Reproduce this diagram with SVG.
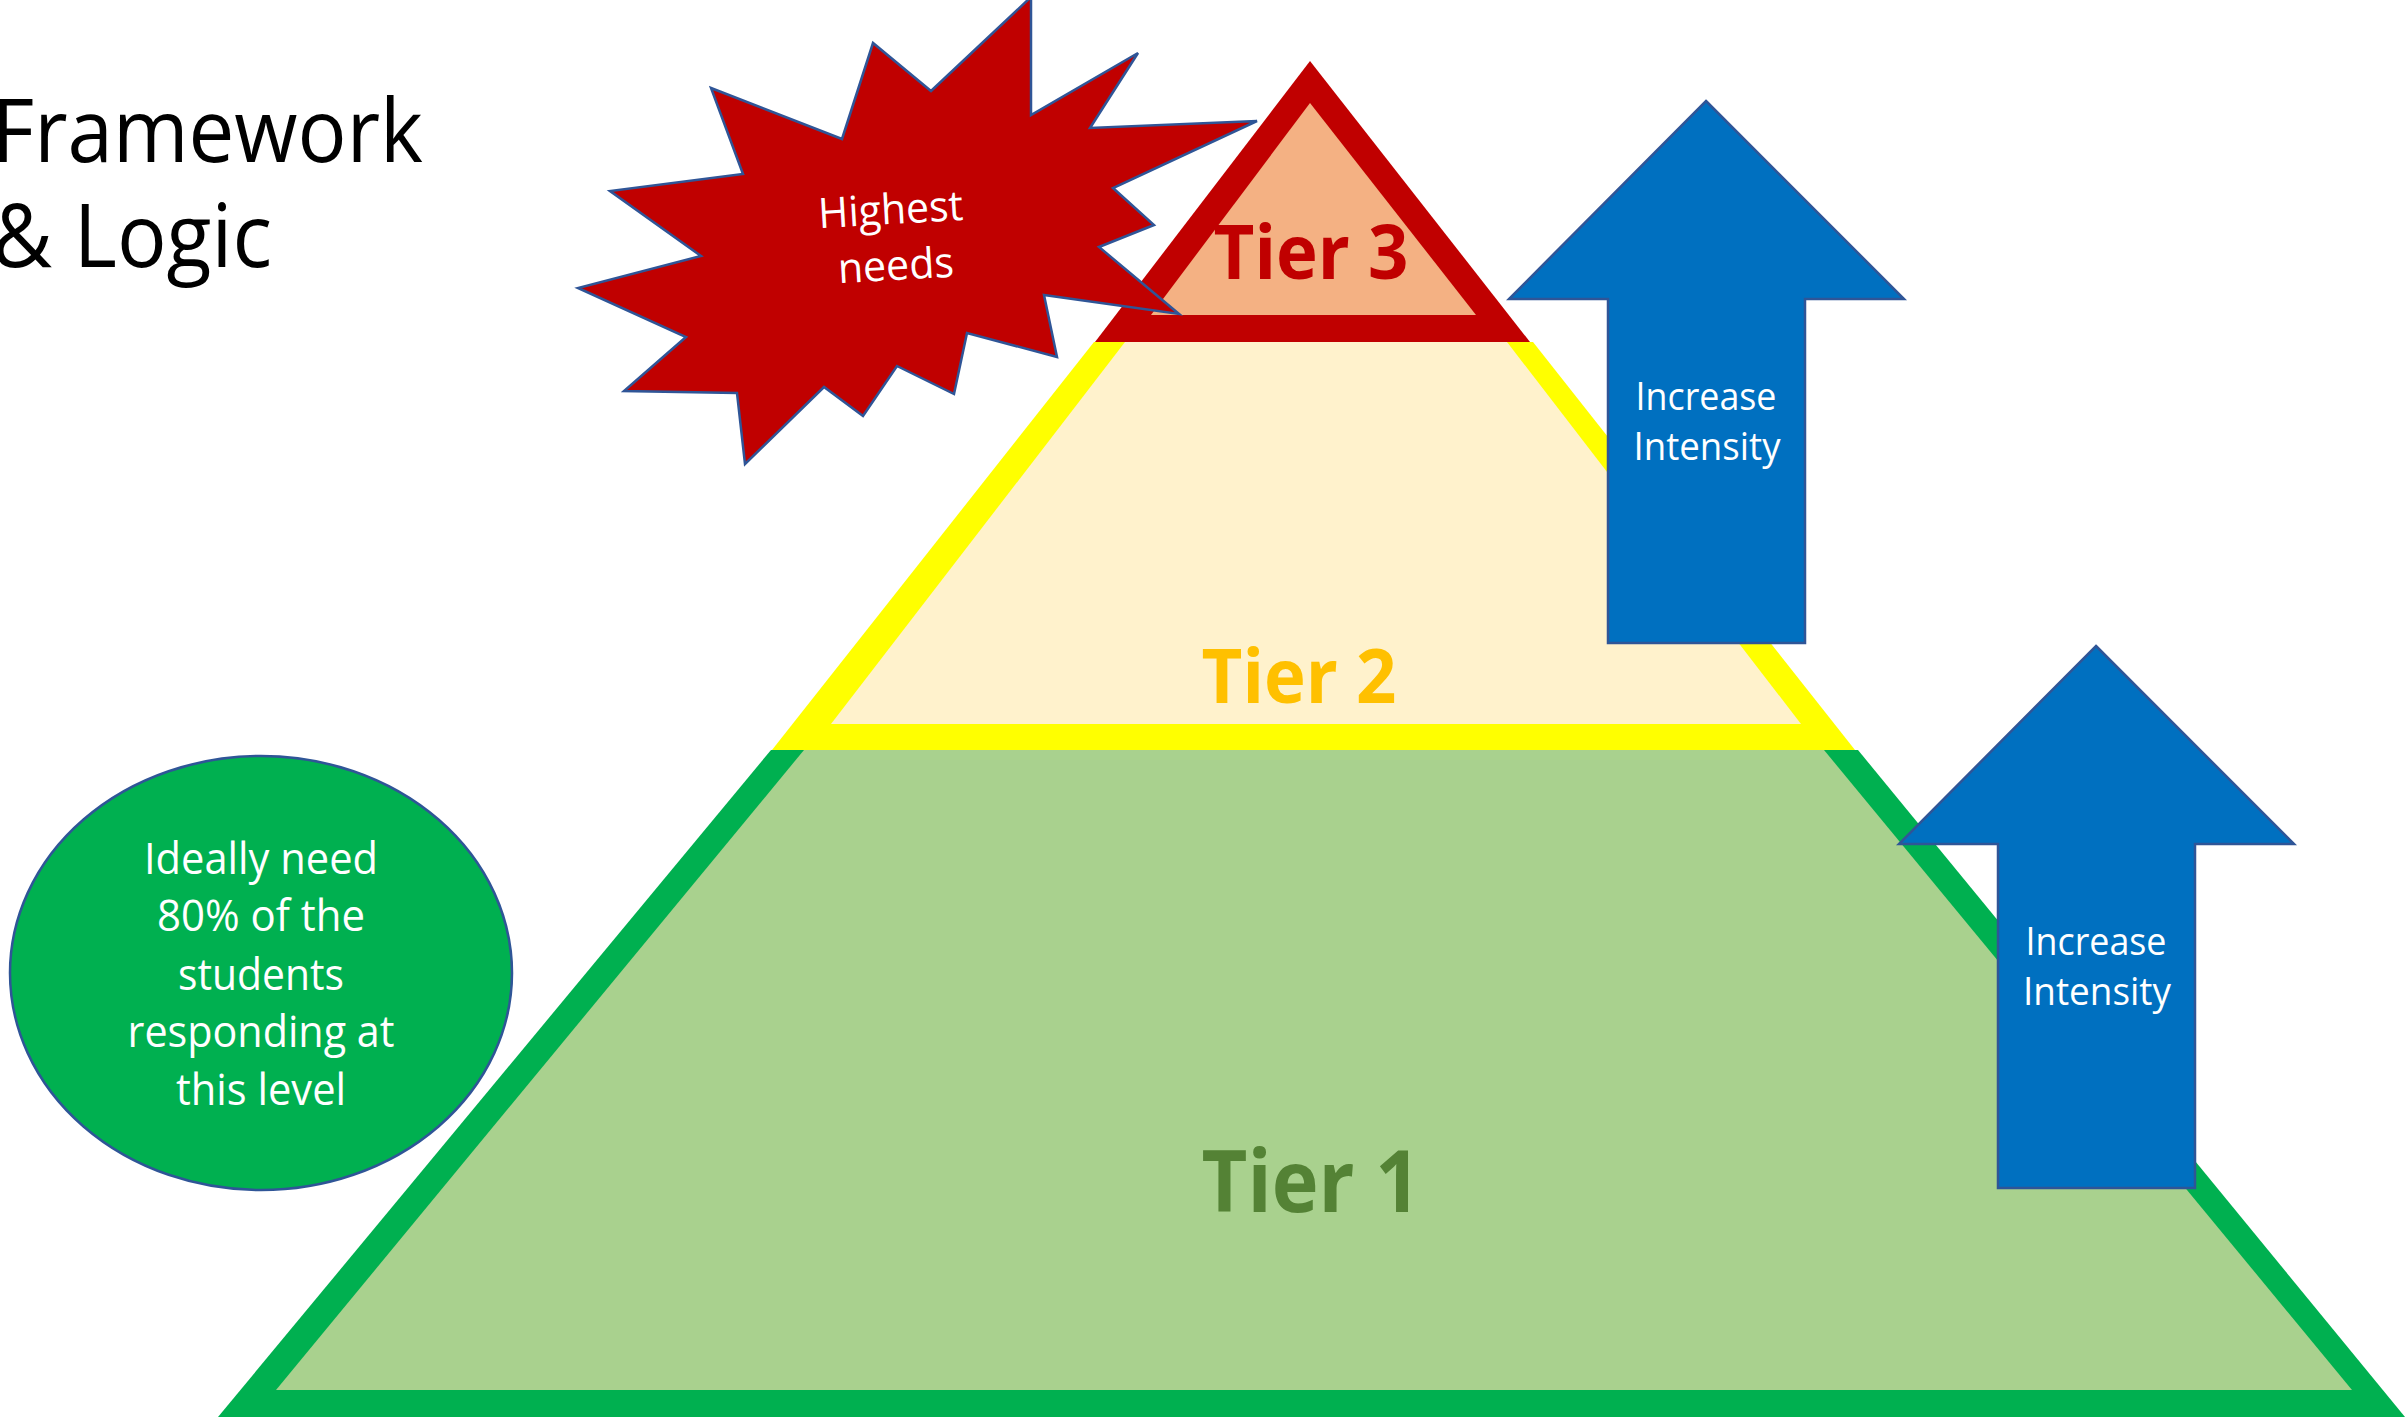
<svg xmlns="http://www.w3.org/2000/svg" width="2407" height="1418" viewBox="0 0 2407 1418">
  <style>
    text { font-family: "Open Sans", "Noto Sans", "Liberation Sans", sans-serif; }
    .title { font-size: 87px; fill: #000000; }
    .tier { font-size: 76px; font-weight: bold; text-anchor: middle; }
    .white { fill: #FFFFFF; text-anchor: middle; }
    .outline { stroke: #2F5597; stroke-width: 2.5; stroke-linejoin: miter; }
    .arrow { fill: #0070C0; }
  </style>

  <rect x="0" y="0" width="2407" height="1418" fill="#FFFFFF"/>

  <!-- Title -->
  <g id="title">
    <text class="title" x="-8" y="162" textLength="431" lengthAdjust="spacingAndGlyphs">Framework</text>
    <text class="title" x="-8" y="267" textLength="280" lengthAdjust="spacingAndGlyphs">&amp; Logic</text>
  </g>

  <!-- Tier 1: base of the pyramid -->
  <g id="tier1">
    <polygon points="771,750 1858,750 2405,1417 218,1417" fill="#00B050"/>
    <polygon points="804,750 1824,750 2352,1390 276,1390" fill="#A9D18E"/>
    <text class="tier" x="1311" y="1212" style="font-size:86px" fill="#548235" textLength="219" lengthAdjust="spacingAndGlyphs">Tier 1</text>
  </g>

  <!-- Tier 2: middle band -->
  <g id="tier2">
    <polygon points="1094,342 1533,342 1855,750 772,750" fill="#FFFF00"/>
    <polygon points="1125,342 1507,342 1801,724 831,724" fill="#FFF2CC"/>
    <text class="tier" x="1299" y="703" fill="#FFC000" textLength="195" lengthAdjust="spacingAndGlyphs">Tier 2</text>
  </g>

  <!-- Tier 3: apex -->
  <g id="tier3">
    <polygon points="1310,61 1530,342 1095,342" fill="#C00000"/>
    <polygon points="1310,103 1476,315 1151,315" fill="#F4B183"/>
    <text class="tier" x="1311" y="279" fill="#C00000" textLength="195" lengthAdjust="spacingAndGlyphs">Tier 3</text>
  </g>

  <!-- Callout ellipse -->
  <g id="note-80">
    <ellipse class="outline" cx="261" cy="973" rx="251" ry="217" fill="#00B050"/>
    <g class="white" style="font-size:43px">
      <text x="261" y="874" textLength="234" lengthAdjust="spacingAndGlyphs">Ideally need</text>
      <text x="261" y="931" textLength="208" lengthAdjust="spacingAndGlyphs">80% of the</text>
      <text x="261" y="990" textLength="166" lengthAdjust="spacingAndGlyphs">students</text>
      <text x="261" y="1047" textLength="267" lengthAdjust="spacingAndGlyphs">responding at</text>
      <text x="261" y="1105" textLength="170" lengthAdjust="spacingAndGlyphs">this level</text>
    </g>
  </g>

  <!-- Explosion callout -->
  <g id="highest-needs">
    <polygon class="outline" fill="#C00000" points="1031,-3 1031,115 1138,53 1090,128 1257,121 1113,188 1154,225 1099,247 1179,314 1044,295 1057,357 967,333 954,394 897,366 863,416 824,387 745,464 737,393 624,391 686,337 578,288 701,256 610,191 743,174 711,88 842,139 873,43 931,91"/>
    <g class="white" style="font-size:42px" transform="rotate(-3.3 893 252)">
      <text x="893" y="224" textLength="145" lengthAdjust="spacingAndGlyphs">Highest</text>
      <text x="895" y="280" textLength="116" lengthAdjust="spacingAndGlyphs">needs</text>
    </g>
  </g>

  <!-- Upper intensity arrow -->
  <g id="arrow-upper">
    <polygon class="arrow outline" points="1706,101 1904,299 1805,299 1805,643 1608,643 1608,299 1509,299"/>
    <g class="white" style="font-size:37.5px">
      <text x="1706" y="410" textLength="141" lengthAdjust="spacingAndGlyphs">Increase</text>
      <text x="1707" y="460" textLength="147" lengthAdjust="spacingAndGlyphs">Intensity</text>
    </g>
  </g>

  <!-- Lower intensity arrow -->
  <g id="arrow-lower">
    <polygon class="arrow outline" points="2096,646 2294,844 2195,844 2195,1188 1998,1188 1998,844 1899,844"/>
    <g class="white" style="font-size:37.5px">
      <text x="2096" y="955" textLength="141" lengthAdjust="spacingAndGlyphs">Increase</text>
      <text x="2097" y="1005" textLength="148" lengthAdjust="spacingAndGlyphs">Intensity</text>
    </g>
  </g>

  <g id="connectors"/>
</svg>
